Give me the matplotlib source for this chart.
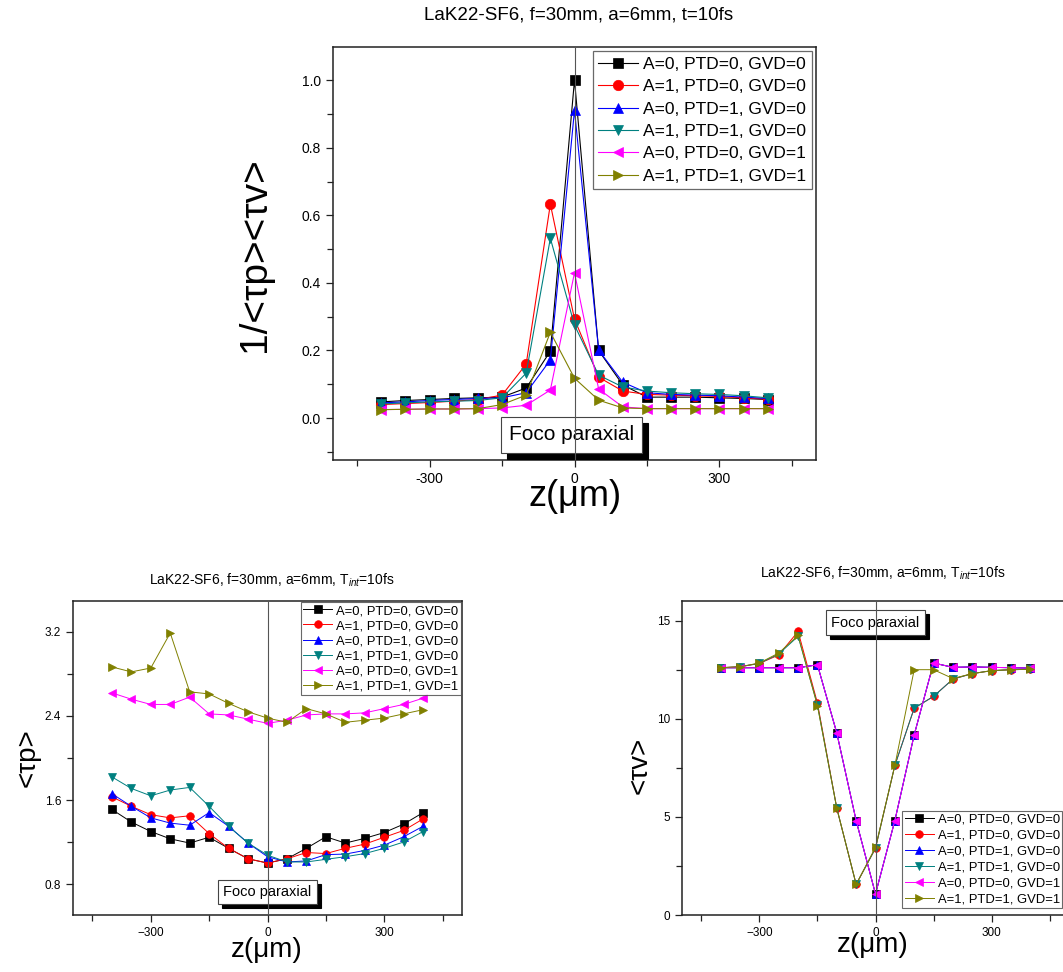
import matplotlib
matplotlib.use('Agg')
import matplotlib.pyplot as plt
from matplotlib.ticker import MultipleLocator
import matplotlib.transforms as mtransforms

plt.rcParams['font.family'] = ['Liberation Sans', 'DejaVu Sans']
plt.rcParams['mathtext.fontset'] = 'custom'
plt.rcParams['mathtext.rm'] = 'Liberation Sans'
plt.rcParams['mathtext.it'] = 'Liberation Sans:italic'

# ---------------- data ----------------
z = [-400, -350, -300, -250, -200, -150, -100, -50, 0, 50, 100, 150, 200, 250, 300, 350, 400]

labels = ["A=0, PTD=0, GVD=0", "A=1, PTD=0, GVD=0", "A=0, PTD=1, GVD=0",
          "A=1, PTD=1, GVD=0", "A=0, PTD=0, GVD=1", "A=1, PTD=1, GVD=1"]
colors = ['#000000', '#ff0000', '#0000ff', '#008080', '#ff00ff', '#808000']
markers = ['s', 'o', '^', 'v', '<', '>']

# top panel: 1/<tau_p><tau_v>
inv_a0p0g0 = [0.048, 0.052, 0.055, 0.058, 0.060, 0.062, 0.089, 0.198, 1.000, 0.200, 0.098, 0.062, 0.062, 0.062, 0.060, 0.058, 0.055]
inv_a1p0g0 = [0.040, 0.043, 0.046, 0.050, 0.055, 0.068, 0.160, 0.633, 0.293, 0.121, 0.080, 0.070, 0.068, 0.066, 0.064, 0.060, 0.056]
inv_a0p1g0 = [0.045, 0.048, 0.052, 0.055, 0.058, 0.060, 0.075, 0.172, 0.911, 0.201, 0.106, 0.075, 0.070, 0.068, 0.066, 0.062, 0.058]
inv_a1p1g0 = [0.042, 0.045, 0.048, 0.050, 0.052, 0.060, 0.133, 0.532, 0.275, 0.127, 0.092, 0.080, 0.075, 0.072, 0.070, 0.066, 0.060]
inv_a0p0g1 = [0.025, 0.026, 0.027, 0.027, 0.028, 0.030, 0.038, 0.083, 0.430, 0.086, 0.033, 0.028, 0.028, 0.028, 0.028, 0.028, 0.028]
inv_a1p1g1 = [0.025, 0.026, 0.027, 0.027, 0.028, 0.040, 0.068, 0.254, 0.118, 0.053, 0.030, 0.028, 0.028, 0.028, 0.028, 0.028, 0.028]

# bottom-left panel: <tau_p>
tp_a0p0g0 = [1.51, 1.39, 1.30, 1.23, 1.19, 1.245, 1.14, 1.04, 1.00, 1.04, 1.14, 1.25, 1.19, 1.235, 1.29, 1.37, 1.48]
tp_a1p0g0 = [1.63, 1.54, 1.46, 1.43, 1.45, 1.28, 1.14, 1.04, 1.00, 1.04, 1.10, 1.09, 1.14, 1.18, 1.245, 1.31, 1.42]
tp_a0p1g0 = [1.66, 1.54, 1.43, 1.38, 1.36, 1.48, 1.35, 1.19, 1.06, 1.01, 1.02, 1.08, 1.085, 1.12, 1.17, 1.25, 1.35]
tp_a1p1g0 = [1.82, 1.71, 1.64, 1.695, 1.72, 1.54, 1.35, 1.19, 1.075, 1.01, 1.01, 1.035, 1.06, 1.09, 1.14, 1.20, 1.30]
tp_a0p0g1 = [2.62, 2.56, 2.51, 2.51, 2.58, 2.42, 2.41, 2.37, 2.33, 2.36, 2.41, 2.42, 2.42, 2.43, 2.47, 2.51, 2.57]
tp_a1p1g1 = [2.867, 2.82, 2.857, 3.19, 2.63, 2.61, 2.52, 2.44, 2.38, 2.34, 2.47, 2.42, 2.34, 2.36, 2.38, 2.42, 2.46]

# bottom-right panel: <tau_v>
tv_a0p0g0 = [12.6, 12.6, 12.6, 12.6, 12.6, 12.75, 9.27, 4.81, 1.07, 4.81, 9.18, 12.84, 12.62, 12.64, 12.62, 12.6, 12.58]
tv_a1p0g0 = [12.6, 12.65, 12.82, 13.25, 14.45, 10.8, 5.44, 1.56, 3.40, 7.62, 10.54, 11.14, 12.02, 12.30, 12.45, 12.50, 12.52]
tv_a0p1g0 = [12.6, 12.6, 12.6, 12.6, 12.6, 12.75, 9.27, 4.81, 1.07, 4.81, 9.18, 12.84, 12.62, 12.64, 12.62, 12.6, 12.58]
tv_a1p1g0 = [12.6, 12.65, 12.82, 13.3, 14.2, 10.7, 5.44, 1.56, 3.40, 7.62, 10.54, 11.14, 12.02, 12.30, 12.45, 12.50, 12.52]
tv_a0p0g1 = [12.6, 12.6, 12.6, 12.6, 12.6, 12.75, 9.27, 4.81, 1.07, 4.81, 9.18, 12.84, 12.62, 12.64, 12.62, 12.6, 12.58]
tv_a1p1g1 = [12.6, 12.65, 12.84, 13.35, 14.25, 10.66, 5.44, 1.56, 3.45, 7.62, 12.5, 12.5, 12.05, 12.30, 12.45, 12.50, 12.52]

top_series = [inv_a0p0g0, inv_a1p0g0, inv_a0p1g0, inv_a1p1g0, inv_a0p0g1, inv_a1p1g1]
bl_series = [tp_a0p0g0, tp_a1p0g0, tp_a0p1g0, tp_a1p1g0, tp_a0p0g1, tp_a1p1g1]
br_series = [tv_a0p0g0, tv_a1p0g0, tv_a0p1g0, tv_a1p1g0, tv_a0p0g1, tv_a1p1g1]

# ---------------- figure ----------------
W, H = 1063, 972
fig = plt.figure(figsize=(W / 100, H / 100), dpi=100)


def px_axes(l, t, r, b):
    return fig.add_axes([l / W, 1 - b / H, (r - l) / W, (b - t) / H])


def ftext(x, y, s, **kw):
    fig.text(x / W, 1 - y / H, s, ha='center', va='center', **kw)


def style(ax, ticksize, xmaj, xmin, ymaj, ymin):
    ax.xaxis.set_major_locator(MultipleLocator(xmaj))
    ax.xaxis.set_minor_locator(MultipleLocator(xmin))
    ax.yaxis.set_major_locator(MultipleLocator(ymaj))
    ax.yaxis.set_minor_locator(MultipleLocator(ymin))
    ax.tick_params(which='both', direction='out', top=False, right=False,
                   labelsize=ticksize, color='#222222', width=0.9)
    ax.tick_params(which='major', length=5)
    ax.tick_params(which='minor', length=4)
    for sp in ax.spines.values():
        sp.set_linewidth(1.1)
        sp.set_color('#222222')


def foco(ax, x, y, fs, off, pad):
    tr = mtransforms.offset_copy(ax.transData, fig=fig, x=off, y=-off, units='dots')
    ax.text(x, y, 'Foco paraxial', transform=tr, fontsize=fs, ha='center', va='center',
            color='black', zorder=5, clip_on=False,
            bbox=dict(boxstyle='square,pad=%g' % pad, fc='black', ec='black', lw=0.8))
    ax.text(x, y, 'Foco paraxial', fontsize=fs, ha='center', va='center',
            color='black', zorder=6, clip_on=False,
            bbox=dict(boxstyle='square,pad=%g' % pad, fc='white', ec='#444444', lw=0.8))


def draw(ax, series, ms, lw):
    ax.axvline(0, color='#555555', lw=0.8, zorder=7)
    for s, c, m, lab in zip(series, colors, markers, labels):
        ax.plot(z, s, color=c, marker=m, markersize=ms, lw=lw, label=lab, zorder=3,
                markeredgewidth=0.5, markeredgecolor=c)


# ----- top panel -----
ax1 = px_axes(333, 47, 816, 460)
draw(ax1, top_series, 7.5, 0.8)
ax1.set_xlim(-500, 500)
ax1.set_ylim(-0.124, 1.098)
style(ax1, 10, 300, 150, 0.2, 0.1)
ax1.set_xticks([-300, 0, 300])
ax1.set_xticklabels(['-300', '0', '300'])
foco(ax1, -6, -0.05, 15, 6, 0.4)
ax1.legend(loc='upper right', fontsize=12.5, frameon=True, fancybox=False, numpoints=1,
           handlelength=2.3, handletextpad=0.3, labelspacing=0.42, borderpad=0.3,
           borderaxespad=0.25, edgecolor='#444444').get_frame().set_linewidth(0.9)
ftext(579, 15, 'LaK22-SF6, f=30mm, a=6mm, t=10fs', fontsize=13.5)
ftext(255, 255, '1/<τp><τv>', fontsize=28, rotation=90)
ftext(575, 497, 'z(μm)', fontsize=26)

# ----- bottom-left panel -----
ax2 = px_axes(73, 601, 462, 915)
draw(ax2, bl_series, 5.5, 0.7)
ax2.set_xlim(-500, 500)
ax2.set_ylim(0.505, 3.495)
style(ax2, 8.5, 300, 150, 0.8, 0.4)
foco(ax2, 0, 0.724, 10.5, 4, 0.35)
ax2.legend(loc='upper right', fontsize=9.4, frameon=True, fancybox=False, numpoints=1,
           handlelength=2.2, handletextpad=0.3, labelspacing=0.22, borderpad=0.2,
           borderaxespad=0.1, edgecolor='#444444').get_frame().set_linewidth(0.8)
ftext(272, 580, 'LaK22-SF6, f=30mm, a=6mm, T$_{int}$=10fs', fontsize=10)
ftext(28, 758, '<τp>', fontsize=20, rotation=90)
ftext(267, 950, 'z(μm)', fontsize=20)

# ----- bottom-right panel -----
ax3 = px_axes(682, 601, 1069, 915)
draw(ax3, br_series, 5.5, 0.7)
ax3.set_xlim(-500, 500)
ax3.set_ylim(0, 16)
style(ax3, 8.5, 300, 150, 5, 2.5)
foco(ax3, 0, 14.9, 10.5, 4, 0.35)
ax3.legend(loc='lower right', fontsize=9.4, frameon=True, fancybox=False, numpoints=1,
           handlelength=2.2, handletextpad=0.3, labelspacing=0.3, borderpad=0.2,
           borderaxespad=0.5, edgecolor='#444444').get_frame().set_linewidth(0.8)
ftext(883, 573, 'LaK22-SF6, f=30mm, a=6mm, T$_{int}$=10fs', fontsize=10)
ftext(640, 765, '<τv>', fontsize=20, rotation=90)
ftext(873, 945, 'z(μm)', fontsize=20)

fig.savefig('out.png', dpi=100)
